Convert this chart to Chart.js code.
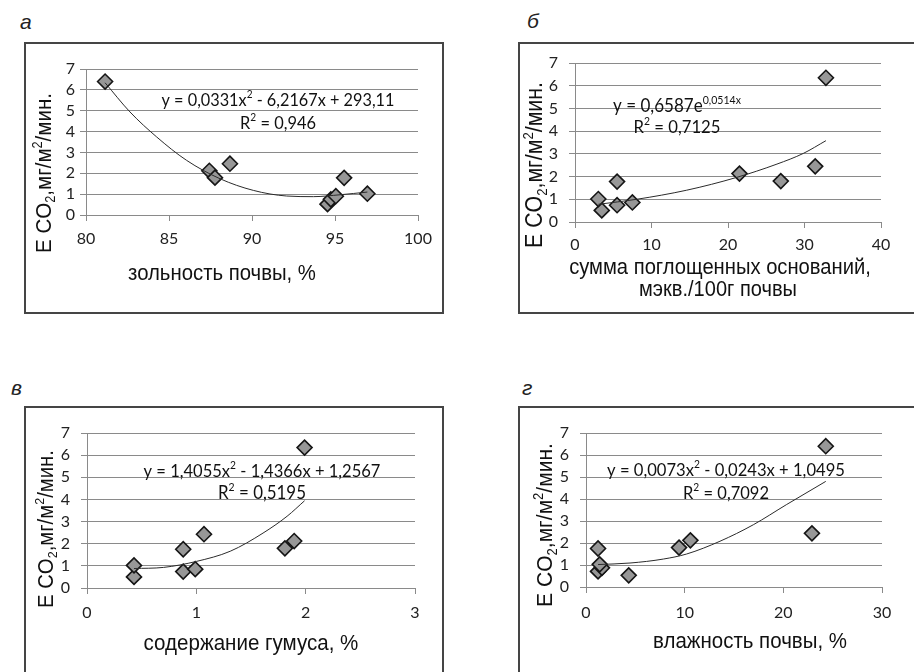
<!DOCTYPE html>
<html>
<head>
<meta charset="utf-8">
<script src="https://cdn.jsdelivr.net/npm/chart.js@4.4.1/dist/chart.umd.min.js"></script>
<style>
  body { margin: 0; width: 914px; height: 672px; overflow: hidden; position: relative; background: #fff; }
  canvas { position: absolute; }
  .box { position: absolute; border: 2px solid #454545; box-sizing: border-box; pointer-events: none; }
  .tag { position: absolute; font: italic 21px "Liberation Sans", Arial, sans-serif; color: #222; line-height: 1; }
</style>
</head>
<body>
<span class="tag" style="left:20px;top:11px">а</span>
<span class="tag" style="left:527px;top:10px">б</span>
<span class="tag" style="left:11px;top:377px">в</span>
<span class="tag" style="left:522px;top:377px">г</span>

<canvas id="chA"></canvas>
<canvas id="chB"></canvas>
<canvas id="chC"></canvas>
<canvas id="chD"></canvas>

<div class="box" style="left:24px;top:42px;width:420px;height:272px"></div>
<div class="box" style="left:518px;top:42px;width:400px;height:272px"></div>
<div class="box" style="left:24px;top:406px;width:420px;height:272px"></div>
<div class="box" style="left:518px;top:406px;width:400px;height:272px"></div>

<script>
// общая ось Y: Е CO2, мг/м2/мин.
const yTicks = [0, 1, 2, 3, 4, 5, 6, 7];

// а: зольность почвы, %
const ashX = [81.15, 87.43, 87.77, 88.67, 94.55, 94.75, 95.05, 95.55, 96.95];
const ashY = [6.40, 2.12, 1.79, 2.46, 0.52, 0.75, 0.90, 1.78, 1.02];
const ashTrendX = [81.15, 82.65, 84.26, 86.06, 88.07, 90.08, 92.09, 93.7, 95.3, 96.95];
const ashTrendY = [6.34, 4.94, 3.74, 2.62, 1.74, 1.18, 0.91, 0.88, 0.97, 1.10];

// б: сумма поглощенных оснований
const basesX = [32.8, 21.5, 26.9, 31.4, 3.5, 5.5, 7.5, 5.5, 3.05];
const basesY = [6.35, 2.13, 1.80, 2.45, 0.51, 0.74, 0.86, 1.78, 1.01];
const basesTrendX = [3.05, 8.06, 14.6, 21.1, 26.4, 29.85, 32.8];
const basesTrendY = [0.78, 1.0, 1.40, 1.96, 2.55, 3.02, 3.58];

// в: содержание гумуса, %
const humusX = [1.99, 1.895, 1.81, 1.07, 0.43, 0.88, 0.99, 0.88, 0.43];
const humusY = [6.34, 2.12, 1.79, 2.43, 0.50, 0.74, 0.85, 1.75, 1.02];
const humusTrendX = [0.43, 0.7, 1.0, 1.31, 1.61, 1.83, 1.99];
const humusTrendY = [0.88, 0.93, 1.20, 1.66, 2.48, 3.24, 3.94];

// г: влажность почвы, %
const moistX = [24.3, 10.58, 9.43, 22.9, 4.33, 1.22, 1.62, 1.22, 1.39];
const moistY = [6.40, 2.12, 1.79, 2.44, 0.53, 0.71, 0.87, 1.75, 1.03];
const moistTrendX = [1.22, 4.46, 7.84, 10.2, 13.58, 16.96, 20.3, 24.3];
const moistTrendY = [1.02, 1.09, 1.27, 1.50, 2.08, 2.83, 3.74, 4.80];

const yTitle = [['Е CO', 'n'], ['2', 'sub'], [',мг/м', 'n'], ['2', 'sup'], ['/мин.', 'n']];

const EQ_FONT = 'Lato, "Open Sans", sans-serif';
const TITLE_FONT = '"Liberation Sans", Arial, sans-serif';
const STRETCH = 1.08;   // в оригинале текст чуть вытянут по вертикали

function runWidth(ctx, parts, fam, size) {
    let w = 0;
    for (const [t, k] of parts) {
        ctx.font = (k === 'n' ? size : size * 0.62) + 'px ' + fam;
        w += ctx.measureText(t).width;
    }
    return w;
}

// текст с индексами, подогнанный под нужную ширину
function drawRun(ctx, parts, fam, cx, cy, width, rot) {
    const size = 100 * width / runWidth(ctx, parts, fam, 100);
    ctx.save();
    ctx.translate(cx, cy);
    if (rot) ctx.rotate(rot);
    ctx.scale(1, STRETCH);
    let x = -runWidth(ctx, parts, fam, size) / 2;
    ctx.textBaseline = 'middle';
    ctx.textAlign = 'left';
    ctx.fillStyle = '#111';
    for (const [t, k] of parts) {
        const s = k === 'n' ? size : size * 0.62;
        ctx.font = s + 'px ' + fam;
        const dy = k === 'sub' ? size * 0.3 : k === 'sup' ? -size * 0.32 : 0;
        ctx.fillText(t, x, dy);
        x += ctx.measureText(t).width;
    }
    ctx.restore();
}

const panelText = {
    id: 'panelText',
    afterDraw(chart, args, opts) {
        const ctx = chart.ctx;
        for (const it of opts.items) {
            drawRun(ctx, it.parts, it.font, it.x - opts.ox, it.y - opts.oy, it.w, it.rot);
        }
    }
};

function pts(xs, ys) {
    return xs.map((x, i) => ({ x: x, y: ys[i] }));
}

function makePanel(id, box, plot, xr, marks, trend, pad, items) {
    const cv = document.getElementById(id);
    cv.width = box.w;
    cv.height = box.h;
    cv.style.left = box.x + 'px';
    cv.style.top = box.y + 'px';
    const yW = 40, xH = 40;
    const tickFont = { family: EQ_FONT, size: 16 };
    new Chart(cv, {
        type: 'scatter',
        data: {
            datasets: [
                {
                    data: trend, showLine: true, pointRadius: 0, borderColor: '#2b2b2b',
                    borderWidth: 1, cubicInterpolationMode: 'monotone', order: 0
                },
                {
                    data: marks, pointStyle: 'rectRot', pointRadius: 7.5,
                    backgroundColor: '#979797', borderColor: '#151515', borderWidth: 1.6, order: 1
                }
            ]
        },
        options: {
            responsive: false,
            animation: false,
            events: [],
            layout: {
                autoPadding: false,
                padding: {
                    left: plot.l - box.x - yW,
                    right: box.x + box.w - plot.r,
                    top: plot.t - box.y,
                    bottom: box.y + box.h - plot.b - xH
                }
            },
            plugins: {
                legend: { display: false },
                tooltip: { enabled: false },
                panelText: { ox: box.x, oy: box.y, items: items }
            },
            scales: {
                x: {
                    type: 'linear', min: xr[0], max: xr[1],
                    afterFit: s => { s.height = xH; },
                    ticks: { stepSize: xr[2], padding: pad.x, color: '#222', font: tickFont, maxRotation: 0 },
                    grid: { drawOnChartArea: false, drawTicks: true, tickLength: 6, color: '#8a8a8a' },
                    border: { color: '#8a8a8a' }
                },
                y: {
                    min: yTicks[0], max: yTicks[yTicks.length - 1],
                    afterFit: s => { s.width = yW; },
                    afterBuildTicks: s => { s.ticks = yTicks.map(v => ({ value: v })); },
                    ticks: { padding: pad.y, color: '#222', font: tickFont, autoSkip: false },
                    grid: { color: '#8a8a8a', tickLength: 6 },
                    border: { color: '#8a8a8a' }
                }
            }
        },
        plugins: [panelText]
    });
}

// а
makePanel('chA', { x: 24, y: 42, w: 420, h: 272 }, { l: 86, r: 418, t: 69, b: 215 },
    [80, 100, 5], pts(ashX, ashY), pts(ashTrendX, ashTrendY), { x: 8, y: 5 }, [
    { parts: [['y = 0,0331x', 'n'], ['2', 'sup'], [' - 6,2167x + 293,11', 'n']], font: EQ_FONT, x: 278, y: 100, w: 233 },
    { parts: [['R', 'n'], ['2', 'sup'], [' = 0,946', 'n']], font: EQ_FONT, x: 278, y: 123, w: 76 },
    { parts: [['зольность почвы, %', 'n']], font: TITLE_FONT, x: 222, y: 274, w: 188 },
    { parts: yTitle, font: TITLE_FONT, x: 45, y: 173, w: 160, rot: -Math.PI / 2 }
]);

// б
makePanel('chB', { x: 518, y: 42, w: 400, h: 272 }, { l: 575, r: 881, t: 63, b: 222 },
    [0, 40, 10], pts(basesX, basesY), pts(basesTrendX, basesTrendY), { x: 7, y: 11 }, [
    { parts: [['y = 0,6587e', 'n'], ['0,0514x', 'sup']], font: EQ_FONT, x: 677, y: 106, w: 128 },
    { parts: [['R', 'n'], ['2', 'sup'], [' = 0,7125', 'n']], font: EQ_FONT, x: 677, y: 127, w: 87 },
    { parts: [['сумма поглощенных оснований,', 'n']], font: TITLE_FONT, x: 720, y: 268, w: 302 },
    { parts: [['мэкв./100г почвы', 'n']], font: TITLE_FONT, x: 718, y: 290, w: 158 },
    { parts: yTitle, font: TITLE_FONT, x: 536, y: 165, w: 166, rot: -Math.PI / 2 }
]);

// в
makePanel('chC', { x: 24, y: 406, w: 420, h: 272 }, { l: 87, r: 415, t: 433, b: 588 },
    [0, 3, 1], pts(humusX, humusY), pts(humusTrendX, humusTrendY), { x: 9, y: 11 }, [
    { parts: [['y = 1,4055x', 'n'], ['2', 'sup'], [' - 1,4366x + 1,2567', 'n']], font: EQ_FONT, x: 262, y: 471, w: 237 },
    { parts: [['R', 'n'], ['2', 'sup'], [' = 0,5195', 'n']], font: EQ_FONT, x: 262, y: 493, w: 88 },
    { parts: [['содержание гумуса, %', 'n']], font: TITLE_FONT, x: 251, y: 644, w: 215 },
    { parts: yTitle, font: TITLE_FONT, x: 47, y: 529, w: 158, rot: -Math.PI / 2 }
]);

// г
makePanel('chD', { x: 518, y: 406, w: 400, h: 272 }, { l: 586, r: 882, t: 433, b: 587 },
    [0, 30, 10], pts(moistX, moistY), pts(moistTrendX, moistTrendY), { x: 10, y: 11 }, [
    { parts: [['y = 0,0073x', 'n'], ['2', 'sup'], [' - 0,0243x + 1,0495', 'n']], font: EQ_FONT, x: 726, y: 470, w: 238 },
    { parts: [['R', 'n'], ['2', 'sup'], [' = 0,7092', 'n']], font: EQ_FONT, x: 726, y: 493, w: 86 },
    { parts: [['влажность почвы, %', 'n']], font: TITLE_FONT, x: 750, y: 642, w: 194 },
    { parts: yTitle, font: TITLE_FONT, x: 546, y: 525, w: 164, rot: -Math.PI / 2 }
]);
</script>
</body>
</html>
